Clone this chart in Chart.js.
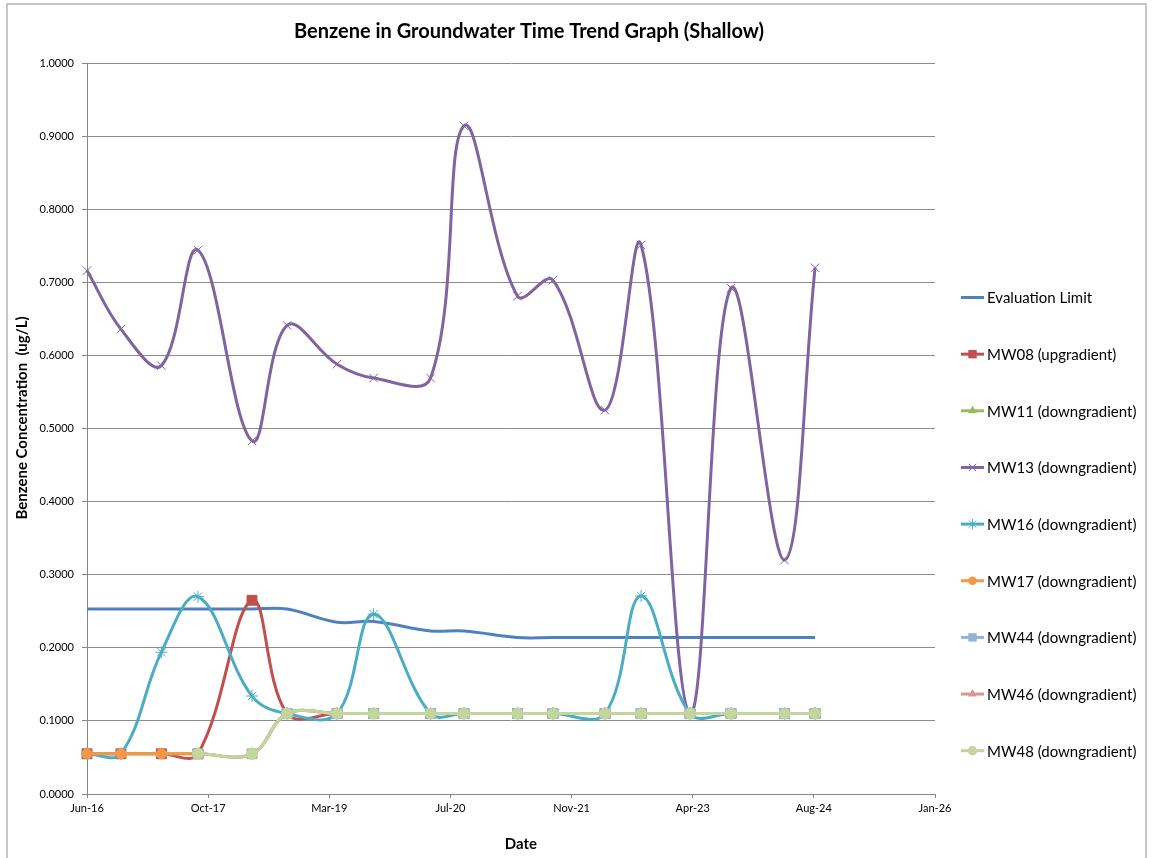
<!DOCTYPE html>
<html>
<head>
<meta charset="utf-8">
<title>Benzene in Groundwater Time Trend Graph (Shallow)</title>
<script src="https://cdn.jsdelivr.net/npm/chart.js@4.4.0/dist/chart.umd.min.js"></script>
<style>
  html, body { margin: 0; padding: 0; background: #ffffff; }
  #wrap { width: 1153px; height: 858px; }
</style>
</head>
<body>
<div id="wrap"><canvas id="chart" width="1153" height="858"></canvas></div>
<script>
// Sampling dates (shared by all wells)
const sampleDates = [
  '2016-06-06', '2016-10-24', '2017-04-09', '2017-09-07', '2018-04-18', '2018-09-10',
  '2019-04-04', '2019-09-02', '2020-04-24', '2020-09-09', '2021-04-18', '2021-09-11',
  '2022-04-14', '2022-09-10', '2023-03-31', '2023-09-16', '2024-04-24', '2024-08-28'
];

// Date axis: starts on the first sampling day, one major unit = 500 days
const axisStart = '2016-06-06';
const axisStepDays = 500;
const axisTickLabels = ['Jun-16', 'Oct-17', 'Mar-19', 'Jul-20', 'Nov-21', 'Apr-23', 'Aug-24', 'Jan-26'];
const yTickStep = 0.1;

// Benzene concentrations (ug/L)
const evaluationLimit = [0.253, 0.253, 0.253, 0.253, 0.253, 0.253, 0.235, 0.236, 0.223, 0.223, 0.214, 0.214, 0.214, 0.214, 0.214, 0.214, 0.214, 0.214];
const mw08 = [0.055, 0.055, 0.055, 0.055, 0.265, 0.110, 0.110, 0.110, 0.110, 0.110, 0.110, 0.110, 0.110, 0.110, 0.110, 0.110, 0.110, 0.110];
const mw11 = [0.055, 0.055, 0.055, 0.055, 0.055, 0.110, 0.110, 0.110, 0.110, 0.110, 0.110, 0.110, 0.110, 0.110, 0.110, 0.110, 0.110, 0.110];
const mw13 = [0.716, 0.636, 0.586, 0.744, 0.483, 0.641, 0.588, 0.569, 0.569, 0.914, 0.681, 0.703, 0.525, 0.751, 0.110, 0.692, 0.320, 0.720];
const mw16 = [0.055, 0.055, 0.194, 0.270, 0.134, 0.110, 0.110, 0.246, 0.110, 0.110, 0.110, 0.110, 0.110, 0.271, 0.110, 0.110, 0.110, 0.110];
const mw17 = [0.055, 0.055, 0.055, 0.055, null, null, null, null, null, null, null, null, null, null, null, null, null, null];
const mw44 = [null, null, null, 0.055, 0.055, 0.110, 0.110, 0.110, 0.110, 0.110, 0.110, 0.110, 0.110, 0.110, 0.110, 0.110, 0.110, 0.110];
const mw46 = [null, null, null, 0.055, 0.055, 0.110, 0.110, 0.110, 0.110, 0.110, 0.110, 0.110, 0.110, 0.110, 0.110, 0.110, 0.110, 0.110];
const mw48 = [null, null, null, 0.055, 0.055, 0.110, 0.110, 0.110, 0.110, 0.110, 0.110, 0.110, 0.110, 0.110, 0.110, 0.110, 0.110, 0.110];

const DAY_MS = 86400000;
const startMs = Date.parse(axisStart);
const dayOffsets = sampleDates.map(d => (Date.parse(d) - startMs) / DAY_MS);

function toPoints(values) {
  const pts = [];
  values.forEach((v, i) => { if (v !== null) pts.push({ x: dayOffsets[i], y: v }); });
  return pts;
}

const FONT = 'Lato, "Open Sans", "DejaVu Sans", sans-serif';

const seriesDefs = [
  { label: 'Evaluation Limit',      values: evaluationLimit, color: '#4F81BD', marker: null,        r: 0 },
  { label: 'MW08 (upgradient)',     values: mw08,            color: '#C0504D', marker: 'rect',      r: 7 },
  { label: 'MW11 (downgradient)',   values: mw11,            color: '#9BBB59', marker: 'triangle',  r: 6 },
  { label: 'MW13 (downgradient)',   values: mw13,            color: '#8064A2', marker: 'crossRot',  r: 6 },
  { label: 'MW16 (downgradient)',   values: mw16,            color: '#4BACC6', marker: 'star',      r: 6 },
  { label: 'MW17 (downgradient)',   values: mw17,            color: '#F79646', marker: 'circle',    r: 5 },
  { label: 'MW44 (downgradient)',   values: mw44,            color: '#95B3D7', marker: 'rect',      r: 7 },
  { label: 'MW46 (downgradient)',   values: mw46,            color: '#D99694', marker: 'triangle',  r: 6 },
  { label: 'MW48 (downgradient)',   values: mw48,            color: '#C3D69B', marker: 'circle',    r: 5.5 }
];

const datasets = seriesDefs.map((s, i) => ({
  label: s.label,
  data: toPoints(s.values),
  borderColor: s.color,
  backgroundColor: s.color,
  borderWidth: 3,
  tension: 0.38,
  fill: false,
  clip: 10,
  pointStyle: s.marker || 'circle',
  pointRadius: s.r,
  pointHoverRadius: s.r,
  pointBorderWidth: 1,
  pointBorderColor: s.color,
  pointBackgroundColor: s.color,
  order: seriesDefs.length - i   // later series drawn on top
}));

// Chart frame, titles and legend
const decorPlugin = {
  id: 'decor',
  beforeDraw(chart) {
    const ctx = chart.ctx;
    ctx.save();
    ctx.fillStyle = '#ffffff';
    ctx.fillRect(0, 0, chart.width, chart.height);
    ctx.strokeStyle = '#b3b3b3';
    ctx.lineWidth = 1.5;
    ctx.strokeRect(7, 4, 1139, 900);
    ctx.restore();
  },
  afterDraw(chart) {
    const ctx = chart.ctx;
    ctx.save();
    ctx.fillStyle = '#000000';
    ctx.textAlign = 'center';
    ctx.textBaseline = 'middle';

    // chart title
    ctx.font = 'bold 20px ' + FONT;
    ctx.fillText('Benzene in Groundwater Time Trend Graph (Shallow)', 529, 32);

    // axis titles
    ctx.font = 'bold 15px ' + FONT;
    ctx.fillText('Date', 521, 844);
    ctx.save();
    ctx.translate(22, 418);
    ctx.rotate(-Math.PI / 2);
    ctx.fillText('Benzene Concentration  (ug/L)', 0, 0);
    ctx.restore();

    // legend
    const x0 = 961, x1 = 984, top = 297.5, gap = 56.65;
    ctx.font = '15px ' + FONT;
    ctx.textAlign = 'left';
    chart.data.datasets.forEach((ds, i) => {
      const y = top + i * gap;
      ctx.strokeStyle = ds.borderColor;
      ctx.lineWidth = 3;
      ctx.beginPath();
      ctx.moveTo(x0, y);
      ctx.lineTo(x1, y);
      ctx.stroke();
      const def = seriesDefs[i];
      if (def.marker) drawMarker(ctx, def.marker, (x0 + x1) / 2, y, def.r * 0.85, ds.borderColor);
      ctx.fillStyle = '#000000';
      ctx.fillText(ds.label, 987, y + 1);
    });
    ctx.restore();
  }
};

function drawMarker(ctx, style, x, y, r, color) {
  ctx.save();
  ctx.fillStyle = color;
  ctx.strokeStyle = color;
  ctx.lineWidth = 1;
  ctx.beginPath();
  if (style === 'circle') {
    ctx.arc(x, y, r, 0, Math.PI * 2);
    ctx.fill();
  } else if (style === 'rect') {
    const s = r * Math.SQRT1_2;
    ctx.rect(x - s, y - s, 2 * s, 2 * s);
    ctx.fill();
  } else if (style === 'triangle') {
    ctx.moveTo(x, y - r);
    ctx.lineTo(x + r * 0.866, y + r * 0.5);
    ctx.lineTo(x - r * 0.866, y + r * 0.5);
    ctx.closePath();
    ctx.fill();
  } else if (style === 'crossRot' || style === 'star') {
    const d = r * Math.SQRT1_2;
    ctx.moveTo(x - d, y - d); ctx.lineTo(x + d, y + d);
    ctx.moveTo(x - d, y + d); ctx.lineTo(x + d, y - d);
    if (style === 'star') { ctx.moveTo(x, y - r); ctx.lineTo(x, y + r); }
    ctx.stroke();
  }
  ctx.restore();
}

new Chart(document.getElementById('chart'), {
  type: 'line',
  data: { datasets },
  plugins: [decorPlugin],
  options: {
    responsive: false,
    animation: false,
    events: [],
    layout: { padding: { top: 63, left: 0, right: 218, bottom: 0 } },
    plugins: {
      legend: { display: false },
      title: { display: false },
      tooltip: { enabled: false }
    },
    scales: {
      x: {
        type: 'linear',
        min: 0,
        max: axisStepDays * (axisTickLabels.length - 1),
        afterFit(scale) { scale.height = 64; },
        afterBuildTicks(scale) {
          scale.ticks = axisTickLabels.map((_, i) => ({ value: i * axisStepDays }));
        },
        ticks: {
          autoSkip: false,
          maxRotation: 0,
          padding: 4,
          color: '#000000',
          font: { family: FONT, size: 11 },
          callback: (v) => axisTickLabels[Math.round(v / axisStepDays)]
        },
        grid: { drawOnChartArea: false, drawTicks: true, tickLength: 4, color: '#868686', tickColor: '#868686' },
        border: { display: true, color: '#868686', width: 1 },
        title: { display: false }
      },
      y: {
        min: 0,
        max: 1,
        afterFit(scale) { scale.width = 87; },
        ticks: {
          stepSize: yTickStep,
          padding: 8,
          color: '#000000',
          font: { family: FONT, size: 11 },
          callback: (v) => Number(v).toFixed(4)
        },
        grid: { color: '#8c8c8c', lineWidth: 1, tickLength: 5, tickColor: '#868686' },
        border: { display: true, color: '#868686', width: 1 },
        title: { display: false }
      }
    }
  }
});
</script>
</body>
</html>
